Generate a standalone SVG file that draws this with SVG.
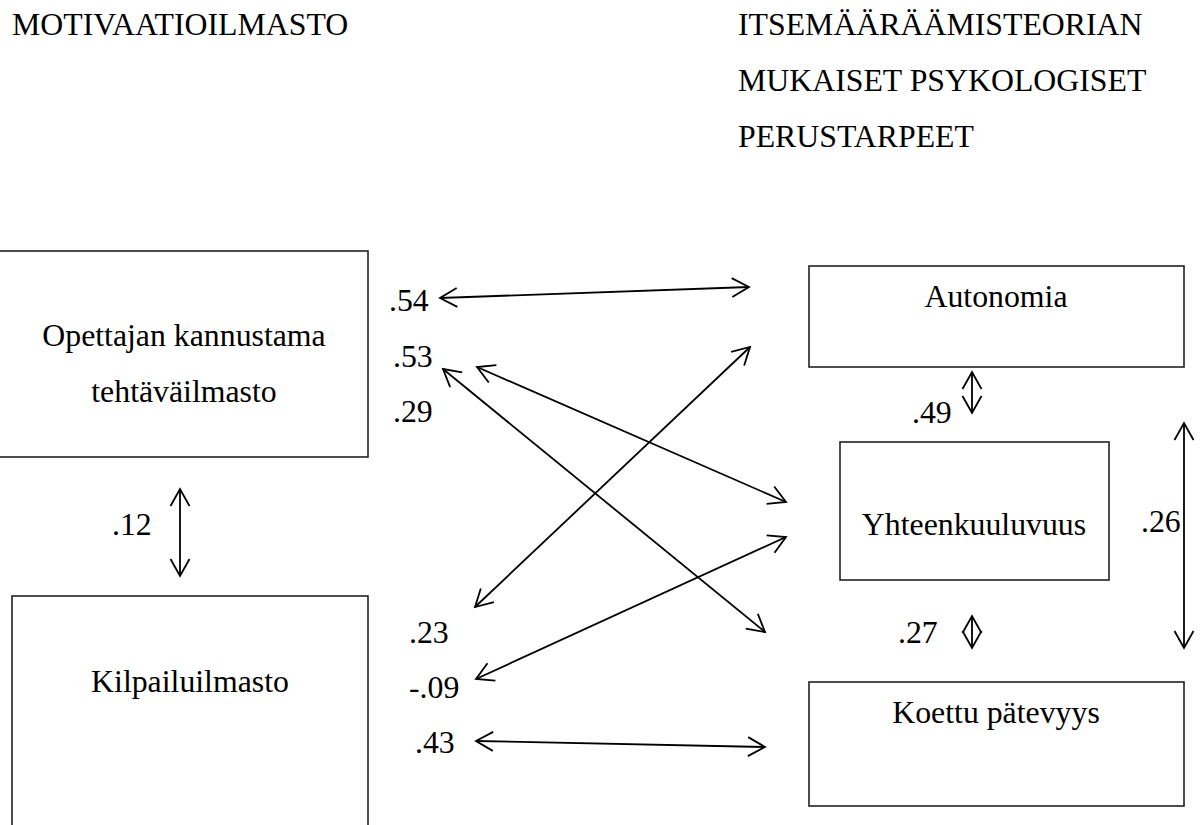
<svg xmlns="http://www.w3.org/2000/svg" width="1201" height="825" viewBox="0 0 1201 825">
<style>
text{font-family:"Liberation Serif","Times New Roman",serif;font-size:31.8px;fill:#000}
.box{fill:#fff;stroke:#222;stroke-width:1.6}
.c{fill:none;stroke:#000;stroke-width:1.8;marker-start:url(#ah);marker-end:url(#ah)}
.m{text-anchor:middle}
</style>
<defs>
<marker id="ah" markerUnits="userSpaceOnUse" markerWidth="40" markerHeight="40" viewBox="-20 -20 40 40" refX="0" refY="0" orient="auto-start-reverse">
<path d="M-17,-9.5 L0,0 L-17,9.5" fill="none" stroke="#000" stroke-width="1.8"/>
</marker>
</defs>
<rect width="1201" height="825" fill="#fff"/>
<g id="titles">
<text x="12" y="35">MOTIVAATIOILMASTO</text>
<text x="738" y="35">ITSEMÄÄRÄÄMISTEORIAN</text>
<text x="738" y="91">MUKAISET PSYKOLOGISET</text>
<text x="738" y="147">PERUSTARPEET</text>
</g>
<g id="node-opettaja">
<rect class="box" x="-2" y="251" width="370" height="206"/>
<text class="m" x="184" y="346">Opettajan kannustama</text>
<text class="m" x="184" y="402">tehtäväilmasto</text>
</g>
<g id="node-kilpailu">
<rect class="box" x="12" y="596" width="356" height="240"/>
<text class="m" x="190" y="692">Kilpailuilmasto</text>
</g>
<g id="node-autonomia">
<rect class="box" x="809" y="266" width="375" height="101"/>
<text class="m" x="996" y="307">Autonomia</text>
</g>
<g id="node-yhteen">
<rect class="box" x="840" y="442" width="269" height="138"/>
<text class="m" x="974" y="535">Yhteenkuuluvuus</text>
</g>
<g id="node-koettu">
<rect class="box" x="809" y="682" width="375" height="124"/>
<text class="m" x="996" y="723">Koettu pätevyys</text>
</g>
<g id="connectors">
<line class="c" x1="440" y1="298" x2="749" y2="287"/>
<line class="c" x1="443" y1="369" x2="765" y2="632"/>
<line class="c" x1="477" y1="367" x2="786" y2="502"/>
<line class="c" x1="750" y1="347" x2="475" y2="607"/>
<line class="c" x1="786" y1="537" x2="476" y2="679"/>
<line class="c" x1="476" y1="741" x2="765" y2="747"/>
<line class="c" x1="180" y1="489" x2="180" y2="576"/>
<line class="c" x1="972" y1="372" x2="972" y2="413"/>
<line class="c" x1="1184" y1="423" x2="1184" y2="648"/>
<line class="c" x1="972" y1="616" x2="972" y2="648"/>
</g>
<g id="labels">
<text x="389" y="311">.54</text>
<text x="393" y="367">.53</text>
<text x="393" y="422">.29</text>
<text x="409" y="643">.23</text>
<text x="409" y="698">-.09</text>
<text x="415" y="753">.43</text>
<text x="112" y="535">.12</text>
<text x="912" y="423">.49</text>
<text x="1141" y="532">.26</text>
<text x="898" y="643">.27</text>
</g>
</svg>
